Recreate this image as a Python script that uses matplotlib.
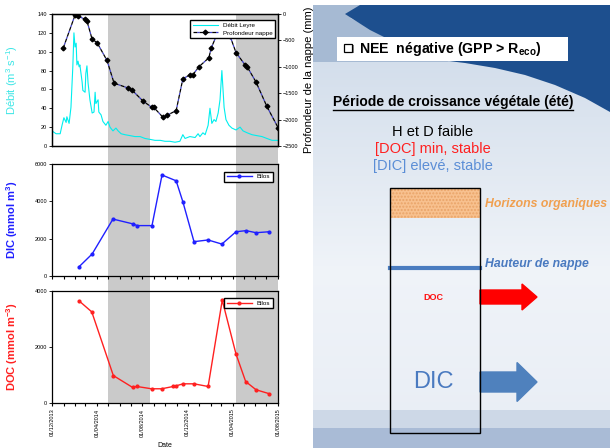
import matplotlib
matplotlib.use('Agg')
import matplotlib.pyplot as plt
import matplotlib.dates as mdates
import matplotlib.patches as mpatches
import numpy as np
import pandas as pd

plt.rcParams.update({
    'font.family': ['Liberation Sans', 'DejaVu Sans'],
    'mathtext.fontset': 'custom',
    'mathtext.rm': 'Liberation Sans',
    'mathtext.it': 'Liberation Sans:italic',
    'mathtext.bf': 'Liberation Sans:bold',
    'axes.linewidth': 0.9,
})

DEBUT = pd.Timestamp('2013-12-01')

# Débit de la Leyre (jours depuis DEBUT, m3/s)
debit_jour = [0, 11, 22, 27, 32, 38, 40, 46, 51, 56, 59, 62, 65, 67, 70, 73, 75, 81, 83, 89,
              91, 94, 97, 102, 108, 113, 116, 118, 124, 126, 132, 137, 145, 151, 156, 164,
              172, 178, 186, 196, 210, 223, 237, 250, 264, 277, 291, 304, 317, 331, 344,
              352, 358, 371, 385, 393, 398, 406, 412, 420, 425, 430, 436, 441, 447, 452,
              457, 463, 468, 476, 484, 495, 506, 514, 525, 538, 551, 565, 578, 592, 608]
debit_leyre = [16, 13, 13, 22, 30, 25, 31, 24, 41, 84, 120, 105, 109, 86, 90, 84, 86, 68, 59, 57,
               77, 85, 67, 49, 35, 36, 57, 45, 49, 36, 33, 26, 22, 26, 20, 16,
               19, 16, 13, 12, 11, 10, 10, 8, 7, 6, 6, 5, 5, 4, 5,
               12, 8, 10, 9, 13, 10, 14, 12, 22, 40, 24, 28, 26, 35, 49,
               80, 41, 28, 22, 19, 17, 20, 16, 14, 12, 11, 10, 8, 6, 6]

# Profondeur de la nappe (mm)
nappe_jour = [30, 62, 70, 89, 94, 108, 121, 148, 167, 204, 215, 245, 269, 274, 299, 309, 334,
              352, 371, 379, 395, 422, 428, 452, 479, 495, 519, 525, 549, 578, 608]
profondeur_nappe = [-650, -20, -40, -100, -130, -480, -540, -880, -1310, -1400, -1440, -1650,
                    -1770, -1770, -1960, -1920, -1830, -1230, -1150, -1150, -1000, -830, -650,
                    -250, -420, -730, -960, -1000, -1290, -1750, -2150]

# DIC et DOC à Bilos (mmol m-3)
dic_jour = [73, 108, 164, 218, 229, 269, 296, 334, 352, 382, 420, 457, 495, 522, 549, 584]
dic_bilos = [500, 1180, 3050, 2790, 2700, 2700, 5410, 5100, 3980, 1840, 1930, 1710, 2370,
             2430, 2320, 2370]
doc_jour = [73, 107, 165, 217, 228, 268, 295, 326, 334, 353, 382, 420, 458, 495, 521, 549, 585]
doc_bilos = [3645, 3254, 980, 555, 590, 508, 508, 590, 615, 685, 685, 590, 3670, 1750, 767,
             472, 330]

# périodes de croissance (grisées)
saison_debut = ['2014-04-30', '2015-04-10']
saison_fin = ['2014-08-21', '2015-08-01']

date_labels = ['01/12/2013', '01/04/2014', '01/08/2014', '01/12/2014', '01/04/2015', '01/08/2015']


def to_dates(jours):
    return DEBUT + pd.to_timedelta(jours, unit='D')


ticks = pd.to_datetime(date_labels, dayfirst=True)
xlim = (ticks[0], ticks[-1])

fig = plt.figure(figsize=(6.1, 4.48), dpi=100)

# ---- decor of the slide (pixel coordinates) ----
deco = fig.add_axes([0, 0, 1, 1])
deco.set_xlim(0, 610)
deco.set_ylim(448, 0)
deco.axis('off')

yy = np.linspace(0, 1, 200)[:, None]
top_c = np.array([0.80, 0.85, 0.91])
mid_c = np.array([0.94, 0.955, 0.975])
low_c = np.array([0.91, 0.93, 0.96])
w = np.clip(yy / 0.6, 0, 1)
grad = (1 - w)[..., None] * top_c + w[..., None] * mid_c
w2 = np.clip((yy - 0.6) / 0.4, 0, 1)
grad = (1 - w2)[..., None] * grad + w2[..., None] * low_c
base = np.ones((200, 10, 3)) * grad
deco.imshow(base, extent=(313, 610, 448, 5), aspect='auto', zorder=0)

deco.add_patch(mpatches.Polygon([(313, 5), (370, 5), (350, 18), (380, 33), (420, 50),
                                 (450, 62), (313, 62)],
                                closed=True, facecolor='#a6bad3', edgecolor='none', zorder=1))
deco.add_patch(mpatches.Polygon([(360, 5), (610, 5), (610, 112), (585, 98), (555, 85),
                                 (525, 75), (495, 68), (465, 63), (440, 60), (400, 45),
                                 (370, 30), (345, 14)],
                                closed=True, facecolor='#1d4f8e', edgecolor='none', zorder=2))
deco.add_patch(mpatches.Rectangle((313, 410), 297, 18, facecolor='#cdd8e7', edgecolor='none', zorder=2))
deco.add_patch(mpatches.Rectangle((313, 428), 297, 20, facecolor='#a9bbd6', edgecolor='none', zorder=2))

# NEE box
deco.add_patch(mpatches.Rectangle((337, 37), 231, 24, facecolor='white', edgecolor='none', zorder=3))
deco.add_patch(mpatches.Rectangle((345.5, 45.5), 8, 8, facecolor='#888888', edgecolor='none', zorder=4))
deco.add_patch(mpatches.Rectangle((344, 44), 8, 8, facecolor='white', edgecolor='black',
                                  lw=0.9, zorder=5))
deco.text(359, 49.5, 'NEE  négative (GPP > R$_{\\mathbf{eco}}$)', fontsize=10.2, fontweight='bold',
          va='center', ha='left', color='black', zorder=4)

titre = deco.text(453, 102, 'Période de croissance végétale (été)', fontsize=10, fontweight='bold',
                  ha='center', va='center', zorder=4)

deco.text(433, 132, 'H et D faible', fontsize=10.5, ha='center', va='center', zorder=4)
deco.text(433, 149, '[DOC] min, stable', fontsize=10.5, ha='center', va='center',
          color='#ff2020', zorder=4)
deco.text(433, 166, '[DIC] elevé, stable', fontsize=10.5, ha='center', va='center',
          color='#5b8ed6', zorder=4)

deco.add_patch(mpatches.Rectangle((390, 188), 90, 30, facecolor='#f8c18f', edgecolor='#e9a468',
                                  hatch='.....', lw=0, zorder=4))
deco.plot([390, 480], [268, 268], color='#4a7cc0', lw=3, zorder=5)
deco.add_patch(mpatches.Rectangle((390, 188), 90, 245, facecolor='none', edgecolor='black',
                                  lw=1, zorder=6))
deco.text(485, 204, 'Horizons organiques', fontsize=8.8, fontweight='bold', style='italic',
          color='#f0a050', va='center', ha='left', zorder=4)
deco.text(485, 264, 'Hauteur de nappe', fontsize=8.8, fontweight='bold', style='italic',
          color='#4a7ac0', va='center', ha='left', zorder=4)
deco.text(433, 297, 'DOC', fontsize=6.5, fontweight='bold', color='#ff1010',
          ha='center', va='center', zorder=4)
deco.text(433, 382, 'DIC', fontsize=17, color='#4a7ac0', ha='center', va='center', zorder=4)
deco.add_patch(mpatches.FancyArrow(480, 297, 57, 0, width=14, head_width=26, head_length=15,
                                   length_includes_head=True, color='#ff0000', zorder=5))
deco.add_patch(mpatches.FancyArrow(480, 382, 57, 0, width=20, head_width=39, head_length=20,
                                   length_includes_head=True, color='#4f81bd', zorder=5))

# ---- gray seasons behind the three charts ----
bg = fig.add_axes([52 / 610, 1 - 403 / 448, 226 / 610, 389 / 448])
bg.set_xlim(xlim)
for d0, d1 in zip(saison_debut, saison_fin):
    bg.axvspan(pd.Timestamp(d0), pd.Timestamp(d1), color='#cacaca', lw=0)
bg.axis('off')


def style_axis(ax):
    ax.set_facecolor('none')
    ax.set_xlim(xlim)
    ax.tick_params(labelsize=4, length=2, width=0.6, pad=1.5)
    ax.set_xticks(ticks)
    ax.xaxis.set_minor_locator(mdates.MonthLocator())
    ax.tick_params(axis='x', which='both', length=2.5, width=0.8)


legend_kw = dict(fontsize=4.5, frameon=True, fancybox=False, edgecolor='black', framealpha=1,
                 borderpad=0.4, labelspacing=0.3)

# ---- top : débit et nappe ----
ax1 = fig.add_axes([52 / 610, 1 - 146 / 448, 226 / 610, 132 / 448])
style_axis(ax1)
l1, = ax1.plot(to_dates(debit_jour), debit_leyre, color='#00eeee', lw=0.8, label='Débit Leyre')
ax1.set_ylim(0, 140)
ax1.set_yticks(range(0, 141, 20))
ax1.tick_params(axis='x', which='both', length=0, labelbottom=False)
ax1.set_ylabel('Débit (m$^3$ s$^{-1}$)', color='#3ee6e6', fontsize=8)
ax1.yaxis.set_label_coords(-0.14, 0.5)

ax2 = ax1.twinx()
l2, = ax2.plot(to_dates(nappe_jour), profondeur_nappe, color='black', ls=(0, (3, 2)),
               gapcolor='#3c3cc8', lw=0.9, marker='D', ms=2.4, label='Profondeur nappe')
ax2.set_ylim(-2500, 0)
ax2.set_yticks(range(-2500, 1, 500))
ax2.tick_params(labelsize=4, length=2, width=0.6, pad=1.5)
ax2.set_ylabel('Profondeur de la nappe (mm)', fontsize=8, rotation=90)
ax2.yaxis.set_label_coords(1.115, 0.5)
ax2.legend(handles=[l1, l2], loc='upper right', bbox_to_anchor=(1.0, 0.975), handlelength=4,
           **legend_kw)

# ---- middle : DIC ----
ax3 = fig.add_axes([52 / 610, 1 - 276 / 448, 226 / 610, 112 / 448])
style_axis(ax3)
ax3.plot(to_dates(dic_jour), dic_bilos, color='#2020ff', lw=1, marker='o', ms=2, label='Bilos')
ax3.set_ylim(0, 6000)
ax3.set_yticks(range(0, 6001, 2000))
ax3.tick_params(axis='x', labelbottom=False)
ax3.set_ylabel('DIC (mmol m$^{\\mathbf{3}}$)', color='#2020ff', fontsize=8, fontweight='bold')
ax3.yaxis.set_label_coords(-0.14, 0.5)
ax3.legend(loc='upper right', bbox_to_anchor=(0.99, 0.96), handlelength=4, **legend_kw)

# ---- bottom : DOC ----
ax4 = fig.add_axes([52 / 610, 1 - 403 / 448, 226 / 610, 112 / 448])
style_axis(ax4)
ax4.plot(to_dates(doc_jour), doc_bilos, color='#ff2020', lw=1, marker='o', ms=2, label='Bilos')
ax4.set_ylim(0, 4000)
ax4.set_yticks(range(0, 4001, 2000))
ax4.set_xticklabels(date_labels, rotation=90, fontsize=4)
ax4.set_xlabel('Date', fontsize=5, labelpad=4)
ax4.set_ylabel('DOC (mmol m$^{\\mathbf{-3}}$)', color='#ff2020', fontsize=8, fontweight='bold')
ax4.yaxis.set_label_coords(-0.14, 0.5)
ax4.legend(loc='upper right', bbox_to_anchor=(0.99, 0.965), handlelength=4, **legend_kw)

# underline for the title on the right
fig.canvas.draw()
bb = titre.get_window_extent().transformed(deco.transData.inverted())
deco.plot([bb.x0, bb.x1], [bb.y0 + 1, bb.y0 + 1], color='black', lw=1, zorder=4)

fig.savefig('out.png', dpi=100)
